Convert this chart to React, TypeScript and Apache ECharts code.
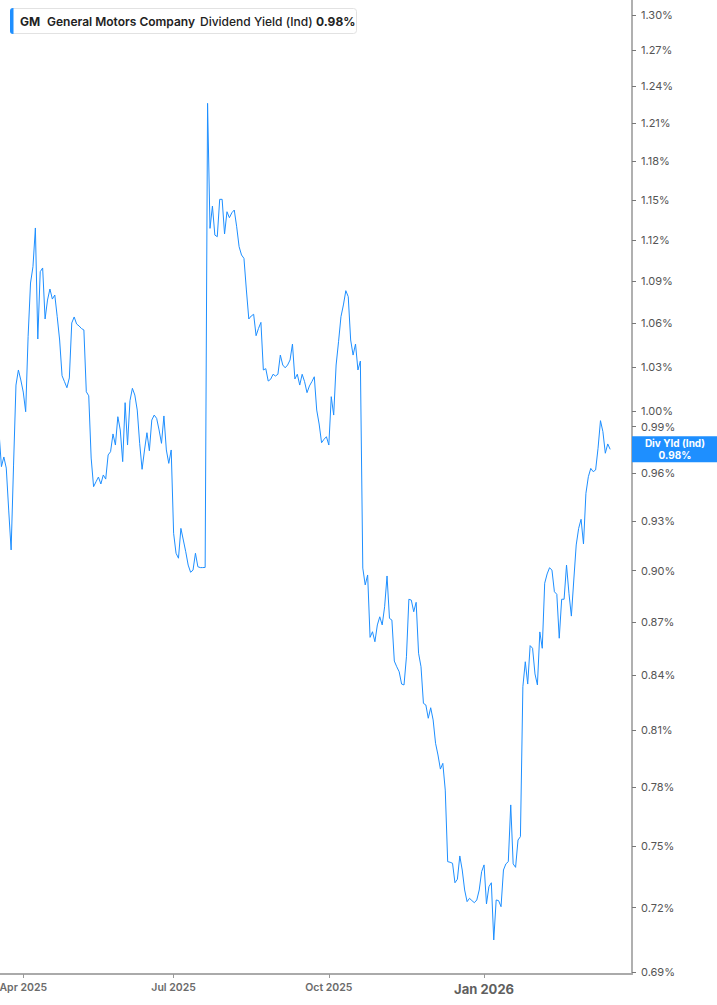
import React, { useEffect, useRef } from "react";
import * as echarts from "echarts";

// trading calendar
const START_DATE = "2025-03-18";
const SLOT_COUNT = 262; // includes a few empty future sessions on the right
const HOLIDAYS = [
  "2025-04-18", "2025-05-26", "2025-06-19", "2025-07-04", "2025-09-01",
  "2025-11-27", "2025-12-25", "2026-01-01", "2026-01-19", "2026-02-16",
];
const MONTH_TICKS = ["2025-04-01", "2025-07-01", "2025-10-01", "2026-01-02"];
const MONTH_NAMES = ["Jan", "Feb", "Mar", "Apr", "May", "Jun", "Jul", "Aug", "Sep", "Oct", "Nov", "Dec"];

// log scale ticks (%)
const Y_TICKS = [1.3, 1.27, 1.24, 1.21, 1.18, 1.15, 1.12, 1.09, 1.06, 1.03, 1.0, 0.99, 0.96, 0.93, 0.9, 0.87, 0.84, 0.81, 0.78, 0.75, 0.72, 0.69];
const Y_MIN = 0.6891;
const Y_MAX = 1.313;

// GM dividend yield (%), daily
const YIELD = [
  0.9865, 0.9641, 0.9703, 0.9632, 0.9368, 0.9124, 0.9651, 1.0176, 1.0278, 1.021,
  1.0129, 0.9998, 1.0507, 1.0887, 1.1005, 1.1291, 1.0491, 1.0969, 1.0996, 1.0631,
  1.0765, 1.0844, 1.0772, 1.0801, 1.0647, 1.0484, 1.0239, 1.0199, 1.0158, 1.0224,
  1.0603, 1.0645, 1.0596, 1.0582, 1.0564, 1.0554, 1.0131, 1.0104, 0.9696, 0.9514,
  0.9545, 0.9575, 0.9531, 0.9588, 0.9562, 0.9716, 0.9737, 0.9852, 0.978, 0.9965,
  0.9878, 0.9673, 1.0058, 0.978, 1.0071, 1.0154, 1.0109, 1.0009, 0.9791, 0.9624,
  0.9748, 0.986, 0.9743, 0.9943, 0.9976, 0.9954, 0.9878, 0.9791, 0.997, 0.9748,
  0.9662, 0.9748, 0.9225, 0.9104, 0.9074, 0.9255, 0.9184, 0.9113, 0.9033, 0.899,
  0.9003, 0.9104, 0.9023, 0.9018, 0.9018, 0.9019, 1.2262, 1.1288, 1.1456, 1.1238,
  1.1226, 1.1507, 1.1507, 1.1246, 1.1413, 1.1368, 1.1405, 1.1426, 1.13, 1.1152,
  1.1091, 1.1066, 1.0837, 1.0631, 1.0652, 1.0664, 1.0514, 1.0565, 1.0607, 1.0278,
  1.0287, 1.0203, 1.0215, 1.0249, 1.0237, 1.0249, 1.038, 1.0312, 1.0293, 1.0312,
  1.0346, 1.0456, 1.0217, 1.0249, 1.0176, 1.0249, 1.0199, 1.0125, 1.017, 1.0199,
  1.0232, 1.0009, 0.9917, 0.9795, 0.9817, 0.9834, 0.978, 1.0098, 0.9976, 1.0312,
  1.0472, 1.0647, 1.073, 1.0832, 1.0789, 1.0484, 1.038, 1.0456, 1.0278, 1.0339,
  0.9015, 0.8915, 0.8974, 0.8611, 0.8643, 0.8586, 0.8682, 0.8729, 0.8682, 0.8787,
  0.8968, 0.872, 0.871, 0.8477, 0.8445, 0.8417, 0.8349, 0.8344, 0.8501, 0.8831,
  0.8826, 0.8758, 0.8813, 0.8521, 0.8445, 0.8243, 0.8234, 0.8162, 0.8219, 0.8153,
  0.8028, 0.7966, 0.7892, 0.7922, 0.7783, 0.7423, 0.742, 0.7415, 0.732, 0.7337,
  0.7451, 0.7382, 0.7285, 0.7229, 0.7245, 0.7234, 0.7224, 0.7237, 0.7285, 0.7374,
  0.7407, 0.7218, 0.7301, 0.732, 0.7048, 0.7237, 0.7234, 0.7205, 0.7382, 0.7412,
  0.7423, 0.7707, 0.7412, 0.7395, 0.753, 0.7547, 0.8334, 0.8473, 0.8349, 0.8564,
  0.8549, 0.8405, 0.8344, 0.8642, 0.8549, 0.8925, 0.898, 0.9017, 0.9003, 0.8875,
  0.886, 0.8606, 0.8831, 0.8831, 0.9033, 0.8866, 0.8733, 0.8944, 0.9154, 0.9255,
  0.9311, 0.916, 0.9472, 0.9577, 0.963, 0.9609, 0.962, 0.9759, 0.9939, 0.9867,
  0.9727, 0.9787, 0.9752,
];

const BLUE = "#1e8fff";
const FONT = "Inter, 'Noto Sans', sans-serif";

function buildTradingDays(start: string, count: number, holidays: string[]) {
  const out: string[] = [];
  const d = new Date(start + "T00:00:00Z");
  while (out.length < count) {
    const dow = d.getUTCDay();
    const iso = d.toISOString().slice(0, 10);
    if (dow !== 0 && dow !== 6 && !holidays.includes(iso)) out.push(iso);
    d.setUTCDate(d.getUTCDate() + 1);
  }
  return out;
}

const DATES = buildTradingDays(START_DATE, SLOT_COUNT, HOLIDAYS);

export default function App() {
  const chartRef = useRef<HTMLDivElement>(null);

  useEffect(() => {
    if (!chartRef.current) return;
    const chart = echarts.init(chartRef.current, undefined, { renderer: "svg" });

    const isMonthTick = (_i: number, v: string) => MONTH_TICKS.includes(v);
    const last = YIELD[YIELD.length - 1];

    const option: any = {
      animation: false,
      backgroundColor: "#ffffff",
      grid: { left: -1, right: 85, top: 0, bottom: 31, containLabel: false, outerBoundsMode: "none" },
      xAxis: {
        type: "category",
        data: DATES,
        boundaryGap: false,
        axisLine: { show: true, onZero: false, lineStyle: { color: "#aaaaaa", width: 2 } },
        axisTick: {
          show: true,
          interval: isMonthTick,
          length: 4,
          lineStyle: { color: "#999999", width: 1 },
        },
        axisLabel: {
          interval: isMonthTick,
          margin: 8,
          color: "#6b6b6b",
          fontSize: 10.5,
          fontWeight: 600,
          fontFamily: FONT,
          formatter: (v: string) => {
            const [y, m] = v.split("-");
            const txt = MONTH_NAMES[Number(m) - 1] + " " + y;
            return m === "01" ? "{b|" + txt + "}" : txt;
          },
          rich: {
            b: { fontSize: 13, fontWeight: 700, color: "#5f5f5f", fontFamily: FONT },
          },
        },
        splitLine: { show: false },
      },
      yAxis: {
        type: "value",
        position: "right",
        min: Math.log(Y_MIN),
        max: Math.log(Y_MAX),
        axisLine: { show: true, onZero: false, lineStyle: { color: "#b0b0b0", width: 2 } },
        axisTick: {
          show: true,
          customValues: Y_TICKS.map((t) => Math.log(t)),
          length: 4,
          lineStyle: { color: "#777777", width: 1 },
        },
        axisLabel: {
          customValues: Y_TICKS.map((t) => Math.log(t)),
          margin: 9,
          color: "#555555",
          fontSize: 11,
          fontFamily: FONT,
          formatter: (v: number) => Math.exp(v).toFixed(2) + "%",
        },
        splitLine: { show: false },
      },
      series: [
        {
          type: "line",
          data: DATES.map((_, i) => (i < YIELD.length ? Math.log(YIELD[i]) : null)),
          showSymbol: false,
          symbol: "none",
          clip: true,
          lineStyle: { color: BLUE, width: 1 },
        },
      ],
    };

    chart.setOption(option);

    const py = chart.convertToPixel({ yAxisIndex: 0 }, Math.log(last)) as number;

    chart.setOption({
      graphic: [
        // legend header
        {
          type: "rect",
          shape: { x: 10.5, y: 8.5, width: 346, height: 25, r: 3 },
          style: { fill: "#ffffff", stroke: "#e2e2e2", lineWidth: 1 },
          z: 10,
        },
        {
          type: "rect",
          shape: { x: 10, y: 8, width: 3.5, height: 26, r: [3, 0, 0, 3] },
          style: { fill: BLUE },
          z: 11,
        },
        {
          type: "text",
          x: 20,
          y: 21,
          style: { text: "GM", fill: "#222222", font: "700 12px " + FONT, textVerticalAlign: "middle" },
          z: 11,
        },
        {
          type: "text",
          x: 47,
          y: 21,
          style: { text: "General Motors Company", fill: "#222222", font: "600 12px " + FONT, textVerticalAlign: "middle" },
          z: 11,
        },
        {
          type: "text",
          x: 200,
          y: 21,
          style: { text: "Dividend Yield (Ind)", fill: "#222222", font: "500 12px " + FONT, textVerticalAlign: "middle" },
          z: 11,
        },
        {
          type: "text",
          x: 316,
          y: 21,
          style: { text: last.toFixed(2) + "%", fill: "#222222", font: "700 12px " + FONT, textVerticalAlign: "middle" },
          z: 11,
        },
        // last value tag on the axis
        {
          type: "rect",
          shape: { x: 632, y: py - 13, width: 85, height: 26 },
          style: { fill: BLUE },
          z: 10,
        },
        {
          type: "text",
          x: 675,
          y: py - 6,
          style: {
            text: "Div Yld (Ind)",
            fill: "#ffffff",
            font: "700 10px " + FONT,
            textAlign: "center",
            textVerticalAlign: "middle",
          },
          z: 11,
        },
        {
          type: "text",
          x: 675,
          y: py + 6,
          style: {
            text: last.toFixed(2) + "%",
            fill: "#ffffff",
            font: "700 10px " + FONT,
            textAlign: "center",
            textVerticalAlign: "middle",
          },
          z: 11,
        },
      ],
    });

    return () => {
      chart.dispose();
    };
  }, []);

  return (
    <div style={{ position: "absolute", left: 0, top: 0, width: 717, height: 1005, background: "#fff" }}>
      <div ref={chartRef} style={{ width: 717, height: 1005 }} />
    </div>
  );
}
